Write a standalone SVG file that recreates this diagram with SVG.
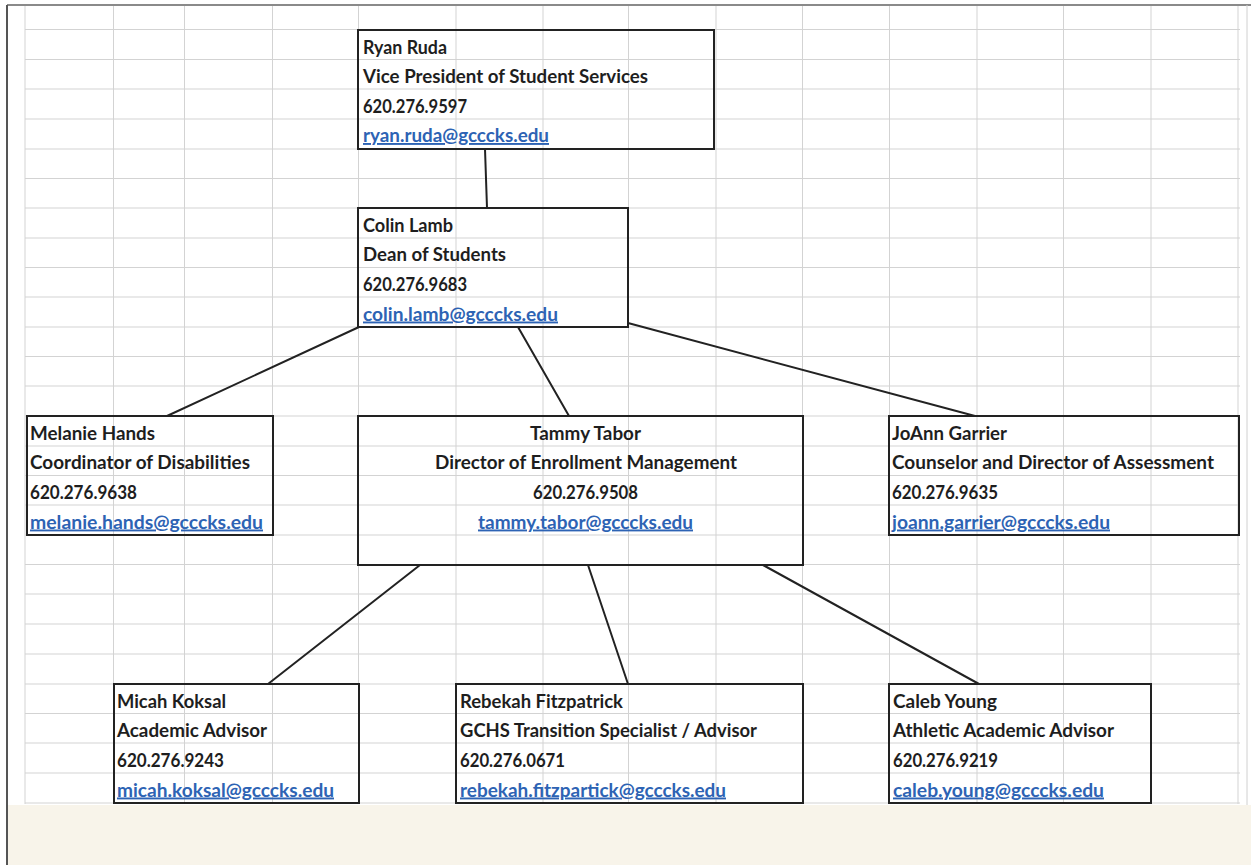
<svg xmlns="http://www.w3.org/2000/svg" width="1251" height="865" viewBox="0 0 1251 865">
<style>
  .grid { stroke: #d3d3d3; stroke-width: 1; fill: none; }
  .box { fill: none; stroke: #222; stroke-width: 2; }
  .conn { stroke: #222; stroke-width: 2; fill: none; stroke-linecap: round; }
  text { font-family: Lato, "Liberation Sans", sans-serif; font-size: 19px; font-weight: bold; fill: #1e1e1e; }
  .mail { fill: #2d63b4; text-decoration: underline; }
  .mid { text-anchor: middle; }
</style>
<rect x="0" y="0" width="1251" height="865" fill="#ffffff"/>
<rect x="8" y="805" width="1243" height="60" fill="#f8f4ea"/>
<g id="frame">
  <line x1="7" y1="5" x2="1251" y2="5" stroke="#8a8a8a" stroke-width="2"/>
  <line x1="7" y1="5" x2="7" y2="865" stroke="#555" stroke-width="2"/>
  <line x1="1247" y1="5" x2="1247" y2="805" stroke="#d0d0d0" stroke-width="1"/>
</g>
<g id="grid" class="grid">
  <path d="M25 6V804 M113.5 6V804 M184.5 6V804 M272.5 6V804 M358.5 6V804 M456 6V804 M543 6V804 M628.5 6V804 M716 6V804 M802.5 6V804 M889.5 6V804 M977 6V804 M1063.5 6V804 M1151 6V804 M1238 6V804"/>
  <path d="M25 29.5H1240 M25 59.5H1240 M25 89H1240 M25 119H1240 M25 149H1240 M25 178.5H1240 M25 208H1240 M25 238H1240 M25 267.5H1240 M25 297H1240 M25 327H1240 M25 356.5H1240 M25 386H1240 M25 416H1240 M25 446H1240 M25 475.5H1240 M25 505H1240 M25 535H1240 M25 564.5H1240 M25 594H1240 M25 624H1240 M25 654H1240 M25 684H1240 M25 713.5H1240 M25 743H1240 M25 773H1240 M25 803H1240"/>
</g>
<g id="connectors">
  <line class="conn" x1="485" y1="149" x2="487" y2="208"/>
  <line class="conn" x1="359" y1="327" x2="167" y2="416"/>
  <line class="conn" x1="518" y1="327" x2="569" y2="416"/>
  <line class="conn" x1="628" y1="323" x2="975" y2="416"/>
  <line class="conn" x1="420" y1="565" x2="268" y2="684"/>
  <line class="conn" x1="588" y1="565" x2="628" y2="684"/>
  <line class="conn" x1="763" y1="565" x2="979" y2="684"/>
</g>
<g id="ryan">
  <rect class="box" x="358" y="30" width="356" height="119"/>
  <text x="363" y="53.5" textLength="84" lengthAdjust="spacingAndGlyphs">Ryan Ruda</text>
  <text x="363" y="83" textLength="285" lengthAdjust="spacingAndGlyphs">Vice President of Student Services</text>
  <text x="363" y="112.5" textLength="104" lengthAdjust="spacingAndGlyphs">620.276.9597</text>
  <text class="mail" x="363" y="142" textLength="186" lengthAdjust="spacingAndGlyphs">ryan.ruda@gcccks.edu</text>
</g>
<g id="colin">
  <rect class="box" x="358" y="208" width="270" height="119"/>
  <text x="363" y="231.5" textLength="90" lengthAdjust="spacingAndGlyphs">Colin Lamb</text>
  <text x="363" y="261" textLength="143" lengthAdjust="spacingAndGlyphs">Dean of Students</text>
  <text x="363" y="291" textLength="104" lengthAdjust="spacingAndGlyphs">620.276.9683</text>
  <text class="mail" x="363" y="320.5" textLength="195" lengthAdjust="spacingAndGlyphs">colin.lamb@gcccks.edu</text>
</g>
<g id="melanie">
  <rect class="box" x="27" y="416" width="246" height="119"/>
  <text x="30" y="439.5" textLength="125" lengthAdjust="spacingAndGlyphs">Melanie Hands</text>
  <text x="30" y="469" textLength="220" lengthAdjust="spacingAndGlyphs">Coordinator of Disabilities</text>
  <text x="30" y="499" textLength="107" lengthAdjust="spacingAndGlyphs">620.276.9638</text>
  <text class="mail" x="30" y="528.5" textLength="233" lengthAdjust="spacingAndGlyphs">melanie.hands@gcccks.edu</text>
</g>
<g id="tammy">
  <rect class="box" x="358" y="416" width="445" height="149"/>
  <text class="mid" x="585.5" y="439.5" textLength="111" lengthAdjust="spacingAndGlyphs">Tammy Tabor</text>
  <text class="mid" x="586" y="469" textLength="302" lengthAdjust="spacingAndGlyphs">Director of Enrollment Management</text>
  <text class="mid" x="585.5" y="499" textLength="105" lengthAdjust="spacingAndGlyphs">620.276.9508</text>
  <text class="mid mail" x="585.5" y="528.5" textLength="215" lengthAdjust="spacingAndGlyphs">tammy.tabor@gcccks.edu</text>
</g>
<g id="joann">
  <rect class="box" x="889" y="416" width="350" height="119"/>
  <text x="892" y="439.5" textLength="115" lengthAdjust="spacingAndGlyphs">JoAnn Garrier</text>
  <text x="892" y="469" textLength="322" lengthAdjust="spacingAndGlyphs">Counselor and Director of Assessment</text>
  <text x="892" y="499" textLength="106" lengthAdjust="spacingAndGlyphs">620.276.9635</text>
  <text class="mail" x="892" y="528.5" textLength="218" lengthAdjust="spacingAndGlyphs">joann.garrier@gcccks.edu</text>
</g>
<g id="micah">
  <rect class="box" x="114" y="684" width="245" height="119"/>
  <text x="117" y="707.5" textLength="109" lengthAdjust="spacingAndGlyphs">Micah Koksal</text>
  <text x="117" y="737" textLength="150" lengthAdjust="spacingAndGlyphs">Academic Advisor</text>
  <text x="117" y="767" textLength="107" lengthAdjust="spacingAndGlyphs">620.276.9243</text>
  <text class="mail" x="117" y="796.5" textLength="217" lengthAdjust="spacingAndGlyphs">micah.koksal@gcccks.edu</text>
</g>
<g id="rebekah">
  <rect class="box" x="456" y="684" width="347" height="119"/>
  <text x="460" y="707.5" textLength="163" lengthAdjust="spacingAndGlyphs">Rebekah Fitzpatrick</text>
  <text x="460" y="737" textLength="297" lengthAdjust="spacingAndGlyphs">GCHS Transition Specialist / Advisor</text>
  <text x="460" y="767" textLength="105" lengthAdjust="spacingAndGlyphs">620.276.0671</text>
  <text class="mail" x="460" y="796.5" textLength="266" lengthAdjust="spacingAndGlyphs">rebekah.fitzpartick@gcccks.edu</text>
</g>
<g id="caleb">
  <rect class="box" x="889" y="684" width="262" height="119"/>
  <text x="893" y="707.5" textLength="104" lengthAdjust="spacingAndGlyphs">Caleb Young</text>
  <text x="893" y="737" textLength="221" lengthAdjust="spacingAndGlyphs">Athletic Academic Advisor</text>
  <text x="893" y="767" textLength="105" lengthAdjust="spacingAndGlyphs">620.276.9219</text>
  <text class="mail" x="893" y="796.5" textLength="211" lengthAdjust="spacingAndGlyphs">caleb.young@gcccks.edu</text>
</g>
</svg>
